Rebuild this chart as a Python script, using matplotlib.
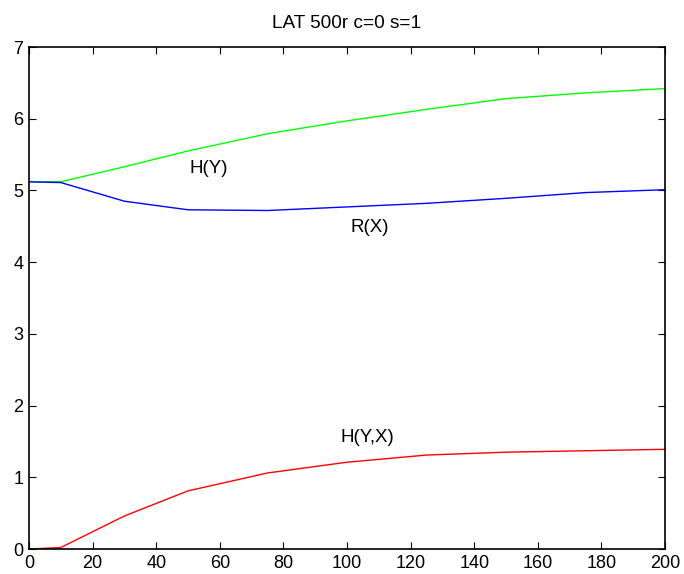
import matplotlib
matplotlib.use("Agg")
import matplotlib.pyplot as plt

x = [0, 10, 30, 50, 75, 100, 125, 150, 175, 200]
h_y = [5.12, 5.12, 5.33, 5.55, 5.79, 5.97, 6.13, 6.28, 6.36, 6.42]
r_x = [5.12, 5.11, 4.85, 4.73, 4.72, 4.77, 4.82, 4.89, 4.97, 5.01]
h_yx = [0.0, 0.02, 0.46, 0.81, 1.06, 1.21, 1.31, 1.35, 1.37, 1.39]

plt.rcParams['font.family'] = ['Liberation Sans', 'DejaVu Sans']

fig = plt.figure(figsize=(6.84, 5.74), dpi=100)
ax = fig.add_axes([29/684, 25/574, 636/684, 502/574])

ax.plot(x, h_y, color='#00ff00', lw=1)
ax.plot(x, r_x, color='#0000ff', lw=1)
ax.plot(x, h_yx, color='#ff0000', lw=1)

ax.text(56.5, 5.31, 'H(Y)', fontsize=13.5, ha='center', va='center')
ax.text(107, 4.49, 'R(X)', fontsize=13.5, ha='center', va='center')
ax.text(106.5, 1.55, 'H(Y,X)', fontsize=13.5, ha='center', va='center')

ax.set_xlim(0, 200)
ax.set_ylim(0, 7)
ax.set_xticks(range(0, 201, 20))
ax.set_yticks(range(0, 8))
ax.tick_params(direction='in', top=True, right=True, length=5, labelsize=13, pad=4)
for s in ax.spines.values():
    s.set_linewidth(1.2)
ax.set_title('LAT 500r c=0 s=1', fontsize=13.7, pad=14)

fig.savefig('out.png', dpi=100)
